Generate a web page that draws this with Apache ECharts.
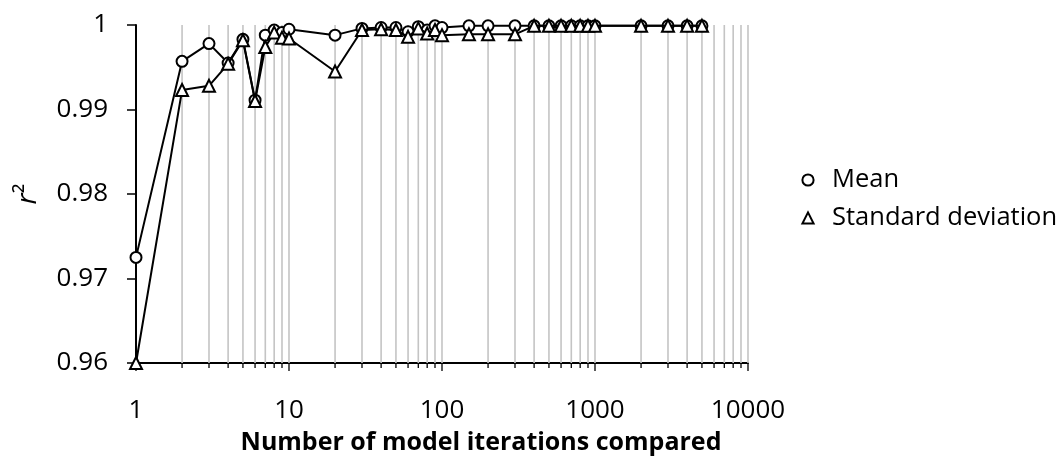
<!DOCTYPE html>
<html>
<head>
<meta charset="utf-8">
<script src="https://cdn.jsdelivr.net/npm/echarts@6/dist/echarts.min.js"></script>
<style>
html,body{margin:0;padding:0;background:#fff;}
#chart{width:1064px;height:464px;}
</style>
</head>
<body>
<div id="chart"></div>
<script>
// ---- data ----
const iterations = [1,2,3,4,5,6,7,8,9,10,20,30,40,50,60,70,80,90,100,150,200,300,400,500,600,700,800,900,1000,2000,3000,4000,5000];
const meanR2 = [0.9725,0.9957,0.9978,0.9955,0.9983,0.9911,0.9988,0.9994,0.9991,0.9995,0.9988,0.9996,0.9997,0.9997,0.9992,0.9998,0.9994,0.9999,0.9997,0.9999,0.9999,0.9999,0.9999,0.9999,0.9999,0.9999,0.9999,0.9999,0.9999,0.9999,0.9999,0.9999,0.9999];
const sdR2 = [0.9600,0.9923,0.9928,0.9954,0.9982,0.9910,0.9974,0.9991,0.9985,0.9984,0.9945,0.9994,0.9995,0.9994,0.9986,0.9996,0.9990,0.9994,0.9988,0.9989,0.9989,0.9989,0.9999,0.9999,0.9999,0.9999,0.9999,0.9999,0.9999,0.9999,0.9999,0.9999,0.9999];
const xTickPositions = [1,2,3,4,5,6,7,8,9,10,20,30,40,50,60,70,80,90,100,200,300,400,500,600,700,800,900,1000,2000,3000,4000,5000,6000,7000,8000,9000,10000];
const xTickLabels = ['1','10','100','1000','10000'];
const yTickLabels = ['0.96','0.97','0.98','0.99','1'];
const seriesNames = ['Mean','Standard deviation'];
const yMin = 0.96, yMax = 1.0, yStep = 0.01;

const FONT = '"Open Sans", "Noto Sans", sans-serif';
const chart = echarts.init(document.getElementById('chart'), null, {renderer:'canvas'});

chart.setOption({
  animation: false,
  backgroundColor: '#fff',
  grid: {left: 136, right: 316, top: 25, bottom: 101, containLabel: false},
  legend: {
    orient: 'vertical',
    left: 783, top: 162,
    itemWidth: 38, itemHeight: 14, itemGap: 12,
    data: seriesNames,
    lineStyle: {opacity: 0},
    textStyle: {fontFamily: FONT, fontSize: 25.5, color: '#000', lineHeight: 26}
  },
  xAxis: {
    type: 'log', logBase: 10, min: 1, max: 10000, splitNumber: 4,
    axisLine: {lineStyle: {color: '#000', width: 2}},
    axisTick: {show: false},
    splitLine: {show: false},
    axisLabel: {
      fontFamily: FONT, fontSize: 26, color: '#000', margin: 35,
      formatter: v => xTickLabels[Math.round(Math.log10(v))]
    }
  },
  yAxis: {
    type: 'value', min: yMin, max: yMax, interval: yStep,
    name: '{r|r}{s|²}', nameLocation: 'middle', nameGap: 94, nameRotate: 90,
    nameTextStyle: {
      rich: {
        r: {fontFamily: FONT, fontSize: 28, fontStyle: 'italic', color: '#000'},
        s: {fontFamily: FONT, fontSize: 28, color: '#000'}
      }
    },
    axisLine: {show: true, lineStyle: {color: '#000', width: 2}},
    axisTick: {show: true, length: 9, lineStyle: {color: '#000', width: 1.5}},
    splitLine: {show: false},
    axisLabel: {
      fontFamily: FONT, fontSize: 26, color: '#000', margin: 28,
      formatter: v => yTickLabels[Math.round((v - yMin) / yStep)]
    }
  },
  graphic: [{
    type: 'text', x: 481, y: 443,
    style: {
      text: 'Number of model iterations compared',
      font: 'bold 25px ' + FONT, fill: '#000',
      align: 'center', verticalAlign: 'middle'
    }
  }],
  series: [
    {
      type: 'custom', name: 'grid', silent: true, clip: false, z: 1,
      data: xTickPositions.map(x => [x, yMin]),
      encode: {x: 0, y: 1},
      renderItem: function (params, api) {
        const x = api.value(0);
        const top = api.coord([x, yMax]);
        const bot = api.coord([x, yMin]);
        const lg = Math.log10(x);
        const major = Math.abs(lg - Math.round(lg)) < 1e-9;
        const children = [];
        if (x > 1) {
          children.push({type: 'line', shape: {x1: top[0], y1: top[1], x2: bot[0], y2: bot[1]},
            style: {stroke: '#c4c4c4', lineWidth: 1.6}});
        }
        children.push({type: 'line', shape: {x1: bot[0], y1: bot[1], x2: bot[0], y2: bot[1] + (major ? 8 : 5)},
          style: {stroke: '#000', lineWidth: 1.3}});
        return {type: 'group', children: children};
      }
    },
    {
      type: 'line', name: seriesNames[0], z: 3, clip: false,
      data: iterations.map((x, i) => [x, meanR2[i]]),
      symbol: 'emptyCircle', symbolSize: 11,
      itemStyle: {color: '#000', borderWidth: 1.8},
      lineStyle: {color: '#000', width: 2}
    },
    {
      type: 'line', name: seriesNames[1], z: 4, clip: false,
      data: iterations.map((x, i) => [x, sdR2[i]]),
      symbol: 'emptyTriangle', symbolSize: 12,
      itemStyle: {color: '#000', borderWidth: 1.8},
      lineStyle: {color: '#000', width: 2}
    }
  ]
});
</script>
</body>
</html>
